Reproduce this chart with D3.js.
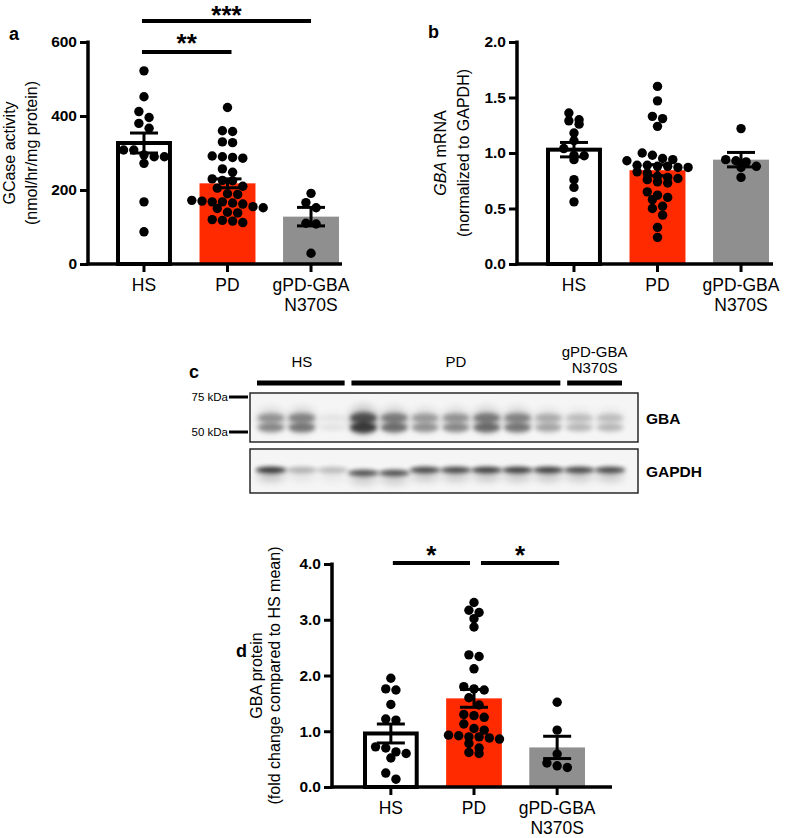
<!DOCTYPE html>
<html>
<head>
<meta charset="utf-8">
<title>GCase / GBA figure</title>
<script src="https://cdn.jsdelivr.net/npm/d3@7"></script>
<style>
  body { margin: 0; background: #fff; }
  svg text { font-family: "Liberation Sans", Arial, Helvetica, sans-serif; }
</style>
</head>
<body>
<div id="chart"></div>
<script>
// ---- data ----
const groups = ["HS", "PD", "gPD-GBA\nN370S"];
const barColors = ["#ffffff", "#ff2a00", "#8f8f8f"];

// a: GCase activity (nmol/hr/mg protein)
const gcaseHS = [522, 452, 412, 396, 380, 367, 308, 308, 295, 290, 290, 272, 168, 87];
const gcasePD = [423, 360, 358, 330, 328, 292, 290, 288, 286, 257, 248, 230, 226, 225, 210, 205, 190, 188,
                 172, 170, 168, 168, 165, 162, 155, 152, 150, 140, 138, 120, 118, 116, 112];
const gcaseGBA = [191, 166, 152, 110, 108, 29];
const gcaseMean = [327, 218, 128];
const gcaseSem = [27, 12, 25];
const gcaseTicks = [0, 200, 400, 600];

// b: GBA mRNA (normalized to GAPDH)
const mrnaHS = [1.36, 1.30, 1.29, 1.26, 1.18, 1.11, 1.04, 0.98, 0.975, 0.94, 0.76, 0.69, 0.56];
const mrnaPD = [1.60, 1.47, 1.33, 1.31, 1.24, 1.00, 0.98, 0.95, 0.94, 0.93, 0.89, 0.89, 0.88, 0.88, 0.87, 0.87,
                0.83, 0.82, 0.79, 0.78, 0.77, 0.76, 0.74, 0.73, 0.65, 0.62, 0.60, 0.58, 0.52, 0.50, 0.44, 0.33, 0.24];
const mrnaGBA = [1.22, 0.94, 0.93, 0.92, 0.88, 0.87, 0.78];
const mrnaMean = [1.03, 0.845, 0.94];
const mrnaSem = [0.065, 0.05, 0.065];
const mrnaTicks = [0, 0.5, 1.0, 1.5, 2.0];

// d: GBA protein (fold change compared to HS mean)
const protHS = [1.95, 1.76, 1.74, 1.48, 1.22, 1.20, 0.72, 0.70, 0.63, 0.60, 0.52, 0.25, 0.14];
const protPD = [3.31, 3.17, 3.13, 3.02, 2.87, 2.37, 2.34, 2.12, 1.80, 1.76, 1.74, 1.60, 1.47, 1.30, 1.28, 1.25,
                1.13, 1.05, 1.02, 0.93, 0.92, 0.90, 0.90, 0.88, 0.86, 0.78, 0.70, 0.62, 0.60];
const protGBA = [1.52, 1.02, 0.59, 0.43, 0.38, 0.35];
const protMean = [0.96, 1.59, 0.71];
const protSem = [0.17, 0.16, 0.20];
const protTicks = [0, 1, 2, 3, 4];

// c: western blot, band darkness per lane (0 = none, 1 = saturated)
const blotGroups = ["HS", "PD", "gPD-GBA\nN370S"];
const blotLaneCount = [3, 7, 2];
const gbaBand   = [0.55, 0.65, 0.08, 1.0, 0.7, 0.5, 0.55, 0.72, 0.65, 0.4, 0.3, 0.3];
const gapdhBand = [0.9, 0.3, 0.25, 0.75, 0.75, 0.8, 0.8, 0.85, 0.85, 0.85, 0.8, 0.8];
const markers = ["75 kDa", "50 kDa"];
const blotRows = ["GBA", "GAPDH"];

// ---- drawing ----
const width = 800, height = 838;
const svg = d3.select("#chart").append("svg")
    .attr("width", width).attr("height", height);

const defs = svg.append("defs");
defs.append("filter").attr("id", "blur1").attr("x", "-50%").attr("y", "-100%").attr("width", "200%").attr("height", "300%")
    .append("feGaussianBlur").attr("stdDeviation", 2.3);
defs.append("filter").attr("id", "blur2").attr("x", "-50%").attr("y", "-100%").attr("width", "200%").attr("height", "300%")
    .append("feGaussianBlur").attr("stdDeviation", 4.5);

// simple GraphPad-like scatter: points of similar height share a row, centred on the bar
function swarm(vals, y, cx, r) {
    const d = 2 * r + 0.8;
    const pts = vals.map(v => ({ v, y: y(v) })).sort((a, b) => a.y - b.y);
    const out = [];
    let row = [];
    const place = () => {
        row.forEach((p, i) => { p.x = cx + (i - (row.length - 1) / 2) * d; out.push(p); });
        row = [];
    };
    pts.forEach(p => {
        if (row.length && p.y - row[0].y > d * 0.75) place();
        row.push(p);
    });
    if (row.length) place();
    return out;
}

function barPanel(o) {
    const g = svg.append("g");
    const x = d3.scaleBand().domain(groups).range(o.xRange).paddingInner(0.33).paddingOuter(0);
    const y = d3.scaleLinear().domain([0, o.ticks[o.ticks.length - 1]]).range(o.yRange);
    const y0 = y(0);

    // bars
    g.selectAll("rect.bar").data(o.means).join("rect")
        .attr("class", "bar")
        .attr("x", (d, i) => x(groups[i]) + (i === 0 ? 2 : 0))
        .attr("width", (d, i) => x.bandwidth() - (i === 0 ? 4 : 0))
        .attr("y", d => y(d))
        .attr("height", d => y0 - y(d))
        .attr("fill", (d, i) => barColors[i])
        .attr("stroke", (d, i) => i === 0 ? "#000" : "none")
        .attr("stroke-width", 4);

    // points
    const r = 4.7;
    o.points.forEach((vals, i) => {
        const cx = x(groups[i]) + x.bandwidth() / 2;
        g.append("g").selectAll("circle").data(swarm(vals, y, cx, r)).join("circle")
            .attr("cx", d => d.x).attr("cy", d => d.y).attr("r", r).attr("fill", "#000");
    });

    // error bars (mean ± SEM)
    const eb = g.append("g").attr("stroke", "#000").attr("stroke-width", 3).attr("fill", "none");
    o.means.forEach((m, i) => {
        const cx = x(groups[i]) + x.bandwidth() / 2;
        const hi = y(m + o.sems[i]), lo = y(m - o.sems[i]);
        eb.append("line").attr("x1", cx).attr("x2", cx).attr("y1", hi).attr("y2", lo);
        eb.append("line").attr("x1", cx - 14).attr("x2", cx + 14).attr("y1", hi).attr("y2", hi);
        eb.append("line").attr("x1", cx - 14).attr("x2", cx + 14).attr("y1", lo).attr("y2", lo);
    });

    // y axis
    const ax = g.append("g").attr("transform", `translate(${o.axisX},0)`)
        .call(d3.axisLeft(y).tickValues(o.ticks).tickFormat(o.fmt).tickSize(8).tickPadding(3));
    ax.select(".domain").remove();
    ax.selectAll(".tick line").attr("stroke", "#000").attr("stroke-width", 3);
    ax.selectAll(".tick text").attr("font-size", 15.5).attr("font-weight", "bold").attr("fill", "#000");
    g.append("line").attr("x1", o.axisX).attr("x2", o.axisX)
        .attr("y1", y(o.ticks[o.ticks.length - 1]) - 1.5).attr("y2", y0 + 1.5)
        .attr("stroke", "#000").attr("stroke-width", 3.5);

    // x axis
    g.append("line").attr("x1", o.axisX - 1.5).attr("x2", o.axisEnd).attr("y1", y0).attr("y2", y0)
        .attr("stroke", "#000").attr("stroke-width", 3.5);
    groups.forEach(c => {
        const cx = x(c) + x.bandwidth() / 2;
        g.append("line").attr("x1", cx).attr("x2", cx).attr("y1", y0).attr("y2", y0 + 8)
            .attr("stroke", "#000").attr("stroke-width", 3);
        c.split("\n").forEach((s, k) => {
            g.append("text").attr("x", cx).attr("y", y0 + o.catDy + k * 19.6)
                .attr("text-anchor", "middle").attr("font-size", 17.5).text(s);
        });
    });

    // y title (two lines, rotated)
    const ym = (y(o.ticks[o.ticks.length - 1]) + y0) / 2;
    o.title.forEach((line, k) => {
        const t = g.append("text")
            .attr("transform", `translate(${o.titleX[k]},${ym}) rotate(-90)`)
            .attr("text-anchor", "middle").attr("dominant-baseline", "central")
            .attr("font-size", 16);
        line.forEach(part => t.append("tspan").attr("font-style", part.italic ? "italic" : null).text(part.t));
    });

    // significance brackets
    o.sigs.forEach(s => {
        const xa = x(groups[s.from]) + x.bandwidth() / 2 + s.pad[0];
        const xb = x(groups[s.to]) + x.bandwidth() / 2 + s.pad[1];
        g.append("line").attr("x1", xa).attr("x2", xb).attr("y1", s.y).attr("y2", s.y)
            .attr("stroke", "#000").attr("stroke-width", 4);
        g.append("text").attr("x", (xa + xb) / 2).attr("y", s.y + s.dy)
            .attr("text-anchor", "middle").attr("font-size", 26).attr("font-weight", "bold").text(s.label);
    });

    // panel letter
    g.append("text").attr("x", o.letter[1]).attr("y", o.letter[2])
        .attr("font-size", 18).attr("font-weight", "bold").text(o.letter[0]);
}

barPanel({
    xRange: [116, 339], axisX: 88, axisEnd: 342, yRange: [264, 42],
    ticks: gcaseTicks, fmt: d3.format("d"), catDy: 27,
    means: gcaseMean, sems: gcaseSem, points: [gcaseHS, gcasePD, gcaseGBA],
    title: [[{ t: "GCase activity" }], [{ t: "(nmol/hr/mg protein)" }]], titleX: [9, 31],
    sigs: [{ from: 0, to: 1, label: "**", y: 52, dy: 0, pad: [-2, 4] },
           { from: 0, to: 2, label: "***", y: 21, dy: 3, pad: [-2, 0] }],
    letter: ["a", 9, 40]
});

barPanel({
    xRange: [546, 769], axisX: 517, axisEnd: 773, yRange: [264, 42],
    ticks: mrnaTicks, fmt: d3.format(".1f"), catDy: 27,
    means: mrnaMean, sems: mrnaSem, points: [mrnaHS, mrnaPD, mrnaGBA],
    title: [[{ t: "GBA", italic: true }, { t: " mRNA" }], [{ t: "(normalized to GAPDH)" }]], titleX: [440, 463],
    sigs: [],
    letter: ["b", 428, 38]
});

barPanel({
    xRange: [363, 585], axisX: 332, axisEnd: 612, yRange: [787, 564],
    ticks: protTicks, fmt: d3.format(".1f"), catDy: 27,
    means: protMean, sems: protSem, points: [protHS, protPD, protGBA],
    title: [[{ t: "GBA protein" }], [{ t: "(fold change compared to HS mean)" }]], titleX: [256, 274],
    sigs: [{ from: 0, to: 1, label: "*", y: 563, dy: 1, pad: [2, -4] },
           { from: 1, to: 2, label: "*", y: 563, dy: 1, pad: [7, 2] }],
    letter: ["d", 236, 657]
});

// ---- c: western blot ----
(function blot() {
    const g = svg.append("g");
    const nLanes = d3.sum(blotLaneCount);
    const lane = d3.scalePoint().domain(d3.range(nLanes)).range([271, 610]);
    const boxX0 = 250, boxX1 = 638;
    const rowsY = { GBA: [393, 442], GAPDH: [449, 493] };

    // boxes
    blotRows.forEach(rw => {
        g.append("rect").attr("x", boxX0).attr("y", rowsY[rw][0])
            .attr("width", boxX1 - boxX0).attr("height", rowsY[rw][1] - rowsY[rw][0])
            .attr("fill", "#f5f5f5").attr("stroke", "#1a1a1a").attr("stroke-width", 1.4);
    });

    // GBA doublet bands
    const gb = g.append("g");
    gbaBand.forEach((v, i) => {
        const cx = lane(i);
        gb.append("ellipse").attr("cx", cx).attr("cy", 420).attr("rx", 15).attr("ry", 10 + 5 * v)
            .attr("fill", "#000").attr("opacity", 0.2 * v).attr("filter", "url(#blur2)");
        gb.append("ellipse").attr("cx", cx).attr("cy", 418).attr("rx", 13.5).attr("ry", 3.2 + 2.5 * v)
            .attr("fill", "#000").attr("opacity", 0.6 * v).attr("filter", "url(#blur1)");
        gb.append("ellipse").attr("cx", cx).attr("cy", 427.5).attr("rx", 13.5).attr("ry", 3.2 + 2.5 * v)
            .attr("fill", "#000").attr("opacity", 0.7 * v).attr("filter", "url(#blur1)");
    });

    // GAPDH bands
    const gp = g.append("g");
    gapdhBand.forEach((v, i) => {
        const cx = lane(i);
        const dy = (i === 3 || i === 4) ? 3 : 0;
        gp.append("ellipse").attr("cx", cx).attr("cy", 476 + dy).attr("rx", 14).attr("ry", 5)
            .attr("fill", "#000").attr("opacity", 0.25 * v).attr("filter", "url(#blur2)");
        gp.append("ellipse").attr("cx", cx).attr("cy", 470 + dy).attr("rx", 15.5).attr("ry", 3.2)
            .attr("fill", "#000").attr("opacity", 0.85 * v).attr("filter", "url(#blur1)");
    });

    // group bars and labels above the blot
    let start = 0;
    blotGroups.forEach((name, k) => {
        const a = lane(start) - 12, b = lane(start + blotLaneCount[k] - 1) + 12;
        g.append("line").attr("x1", a + (k === 0 ? -2 : 0)).attr("x2", b).attr("y1", 383).attr("y2", 383)
            .attr("stroke", "#000").attr("stroke-width", 5);
        const lines = name.split("\n");
        lines.forEach((s, j) => {
            g.append("text").attr("x", (a + b) / 2).attr("y", (lines.length > 1 ? 357 : 367) + j * 16)
                .attr("text-anchor", "middle").attr("font-size", 15).text(s);
        });
        start += blotLaneCount[k];
    });

    // molecular weight markers
    const mY = [397, 432];
    markers.forEach((m, k) => {
        g.append("line").attr("x1", 229).attr("x2", 248).attr("y1", mY[k]).attr("y2", mY[k])
            .attr("stroke", "#000").attr("stroke-width", 3);
        g.append("text").attr("x", 228).attr("y", mY[k] + 4).attr("text-anchor", "end")
            .attr("font-size", 11.5).text(m);
    });

    // row labels
    blotRows.forEach(rw => {
        g.append("text").attr("x", 646).attr("y", (rowsY[rw][0] + rowsY[rw][1]) / 2 + 6)
            .attr("font-size", 15.5).attr("font-weight", "bold").text(rw);
    });

    g.append("text").attr("x", 189).attr("y", 378).attr("font-size", 18).attr("font-weight", "bold").text("c");
})();
</script>
</body>
</html>
